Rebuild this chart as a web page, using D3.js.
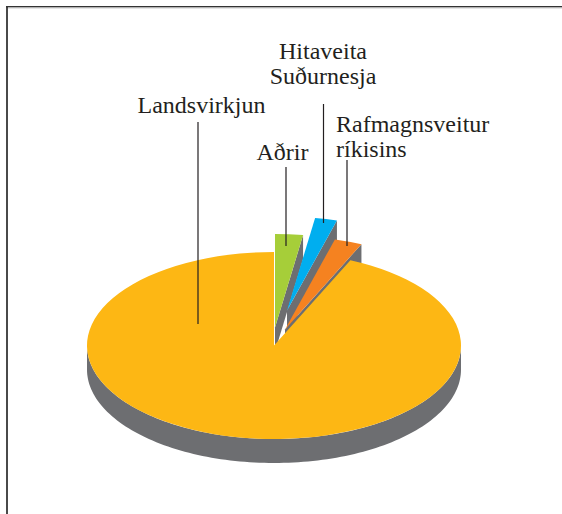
<!DOCTYPE html>
<html><head><meta charset="utf-8">
<script src="https://cdn.jsdelivr.net/npm/d3@7"></script>
<style>html,body{margin:0;padding:0;background:#fff}svg{display:block}
text{font-family:"Liberation Serif",serif;font-size:24px;fill:#231f20}</style></head>
<body><svg id="c" width="562" height="514"></svg>
<script>
const categories = ["Aðrir", "Hitaveita Suðurnesja", "Rafmagnsveitur ríkisins", "Landsvirkjun"];
const shares = [2.4, 1.9, 2.4, 93.3];
const sliceColors = ["#a6ce39", "#00aeef", "#f58220", "#fdb714"];
const explodeDx = [1, 13, 11, 0];
const explodeDy = [-18, -35, -16, 0];
const labelLines = [["Aðrir"], ["Hitaveita", "Suðurnesja"], ["Rafmagnsveitur", "ríkisins"], ["Landsvirkjun"]];
const labelX = [282.5, 323, 336, 201.5];
const labelY = [160, 59, 132, 113];
const labelAnchor = ["middle", "middle", "start", "middle"];
const leaderX = [286, 323.5, 347, 198];
const leaderTop = [167, 104, 160, 122];
const leaderEnd = [246, 223, 246, 324];

const W = 562, H = 514, cx = 274, cy = 345.5, rx = 187, ry = 93.5, depth = 24;
const svg = d3.select("#c");

// frame
svg.append("path").attr("d", `M7,${H}V7`).attr("fill", "none").attr("stroke", "#4a4a4a").attr("stroke-width", 2);
svg.append("path").attr("d", `M6,6.7H${W}`).attr("fill", "none").attr("stroke", "#333").attr("stroke-width", 1.4);
svg.append("path").attr("d", `M8,8H${W}`).attr("fill", "none").attr("stroke", "#ccc").attr("stroke-width", 1);

const arcs = d3.pie().sort(null).value(d => d)(shares);
const arc = d3.arc().innerRadius(0).outerRadius(rx);
const yS = ry / rx;
const off = i => [explodeDx[i], explodeDy[i]];
const pt = (t, r, o, z) => [cx + o[0] + r * Math.sin(t), cy + o[1] - r * yS * Math.cos(t) + z];
const line = d3.line();

function rimWall(i) {
  const o = off(i);
  const rim = d3.range(0, 121).map(k => Math.PI / 2 + Math.PI * k / 120);
  return line(rim.map(t => pt(t, rx, o, 0)).concat(rim.slice().reverse().map(t => pt(t, rx, o, depth)))) + "Z";
}
function face(a, i) {
  const o = off(i);
  return line([pt(a.endAngle, rx, o, 0), pt(a.endAngle, rx, o, depth), pt(0, 0, o, depth), pt(0, 0, o, 0)]) + "Z";
}
const walls = svg.append("g").attr("fill", "#6d6e71");
arcs.forEach((a, i) => {
  if (i < 3) walls.append("path").attr("d", face(a, i));
});
walls.append("path").attr("d", rimWall(3));

// tops
const tops = svg.append("g");
arcs.forEach((a, i) => {
  const o = off(i);
  tops.append("path").attr("d", arc(a)).attr("fill", sliceColors[i])
    .attr("transform", `translate(${cx + o[0]},${cy + o[1]}) scale(1,${yS})`);
});

// leaders
svg.append("g").selectAll("line").data(categories).join("line")
  .attr("x1", (d, i) => leaderX[i]).attr("x2", (d, i) => leaderX[i])
  .attr("y1", (d, i) => leaderTop[i]).attr("y2", (d, i) => leaderEnd[i])
  .attr("stroke", "#231f20").attr("stroke-width", 1.2);

// labels
categories.forEach((c, i) => {
  const t = svg.append("text").attr("text-anchor", labelAnchor[i]).attr("aria-label", c);
  labelLines[i].forEach((s, k) => t.append("tspan").attr("x", labelX[i]).attr("y", labelY[i] + k * 25).text(s));
});
</script></body></html>
